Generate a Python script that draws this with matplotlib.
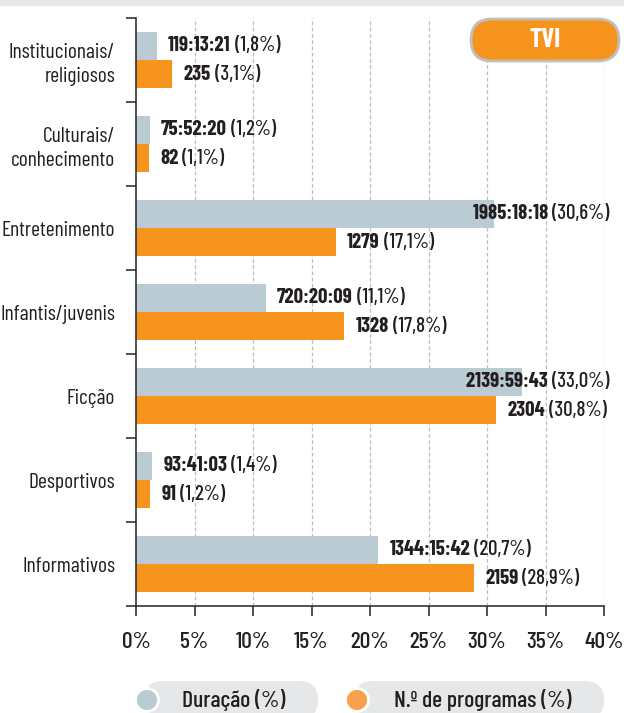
import matplotlib
matplotlib.use("Agg")
import matplotlib.pyplot as plt
import numpy as np
from matplotlib.patches import FancyBboxPatch, Rectangle, Circle

plt.rcParams['font.family'] = ['Barlow Condensed', 'DejaVu Sans']
plt.rcParams['font.weight'] = 500

# data
categories = ['Institucionais/\nreligiosos', 'Culturais/\nconhecimento', 'Entretenimento',
              'Infantis/juvenis', 'Ficção', 'Desportivos', 'Informativos']
dur_pct = [1.8, 1.2, 30.6, 11.1, 33.0, 1.4, 20.7]
dur_time = ['119:13:21', '75:52:20', '1985:18:18', '720:20:09', '2139:59:43', '93:41:03', '1344:15:42']
prog_pct = [3.1, 1.1, 17.1, 17.8, 30.8, 1.2, 28.9]
prog_count = ['235', '82', '1279', '1328', '2304', '91', '2159']
xticks = [0, 5, 10, 15, 20, 25, 30, 35, 40]

BLUE = '#bacbd3'
ORANGE = '#f7941d'
TXT = '#231f20'

fig = plt.figure(figsize=(6.24, 7.13), dpi=100)
ax = fig.add_axes([136/624, 1-606/713, 468/624, 588/713])

y = np.arange(len(categories))
h = 0.335
ax.barh(y - h/2, dur_pct, height=h, color=BLUE, zorder=2)
ax.barh(y + h/2, prog_pct, height=h, color=ORANGE, zorder=2)

ax.set_xlim(0, 40)
ax.set_ylim(len(categories) - 0.5, -0.5)
ax.set_xticks(xticks)
ax.set_xticklabels([f'{t}%' for t in xticks], fontsize=17, color=TXT)
ax.set_yticks(y)
ax.set_yticklabels(categories, fontsize=15.5, color=TXT, linespacing=1.3, fontweight=400)
ax.set_yticks(np.arange(-0.5, len(categories)), minor=True)
ax.tick_params(axis='y', which='major', length=0, pad=15)
ax.tick_params(axis='y', which='minor', length=7, width=1.2, color='#333333')
ax.tick_params(axis='x', length=7, width=1.2, color='#333333', pad=12)
for s in ['top', 'right']:
    ax.spines[s].set_visible(False)
for s in ['left', 'bottom']:
    ax.spines[s].set_linewidth(1.2)
    ax.spines[s].set_color('#333333')
for t in xticks[1:]:
    ax.axvline(t, color='#bdbdbd', lw=0.9, ls=(0, (3, 2)), zorder=1)


def label(x, yy, bold, normal, right=None):
    if right is None:
        b = ax.annotate(bold, (x, yy), xytext=(8, 0), textcoords='offset points',
                        ha='left', va='center', fontsize=15, fontweight='bold', color=TXT,
                        zorder=4, annotation_clip=False)
        ax.annotate(' ' + normal, (1, 0.5), xycoords=b, ha='left', va='center',
                    fontsize=15, color=TXT, zorder=4, annotation_clip=False)
    else:
        n = ax.annotate(normal, (right, yy), ha='right', va='center',
                        fontsize=15, color=TXT, zorder=4, annotation_clip=False)
        ax.annotate(bold + ' ', (0, 0.5), xycoords=n, ha='right', va='center',
                    fontsize=15, fontweight='bold', color=TXT, zorder=4, annotation_clip=False)


for i in range(len(categories)):
    pd = f'({dur_pct[i]:.1f}%)'.replace('.', ',')
    pp = f'({prog_pct[i]:.1f}%)'.replace('.', ',')
    label(dur_pct[i], i - h/2, dur_time[i], pd, right=40.5 if dur_pct[i] > 30 else None)
    label(prog_pct[i], i + h/2, prog_count[i], pp)

# top grey band
fig.patches.append(Rectangle((0, 1 - 5/713), 1, 5/713, transform=fig.transFigure,
                             color='#e6e7e8', zorder=0))

# TVI badge (inches)
tr = fig.dpi_scale_trans
fig.patches.append(FancyBboxPatch((4.71, 6.52), 1.48, 0.42, boxstyle='round,pad=0,rounding_size=0.21',
                                  transform=tr, facecolor=ORANGE, edgecolor='#c0c0c0', lw=2, zorder=3))
fig.text(5.45, 6.73, 'TVI', transform=tr, ha='center', va='center', color='white',
         fontsize=19, fontweight='bold', zorder=4)

# legend pills
for x0, x1, col, txt, tx in [(1.44, 3.18, '#b9cbd3', 'Duração (%)', 2.34),
                             (3.54, 6.04, '#f8a14c', 'N.º de programas (%)', 4.83)]:
    fig.patches.append(FancyBboxPatch((x0, -0.06), x1 - x0, 0.38, boxstyle='round,pad=0,rounding_size=0.19',
                                      transform=tr, facecolor='#e6e7e8', edgecolor='none', zorder=2))
    fig.patches.append(Circle((x0 + 0.03, 0.13), 0.115, transform=tr, facecolor=col,
                              edgecolor='white', lw=2, zorder=3))
    fig.text(tx, 0.13, txt, transform=tr, ha='center', va='center', fontsize=17, color=TXT, zorder=4)

fig.savefig('out.png', dpi=100, facecolor='white')
